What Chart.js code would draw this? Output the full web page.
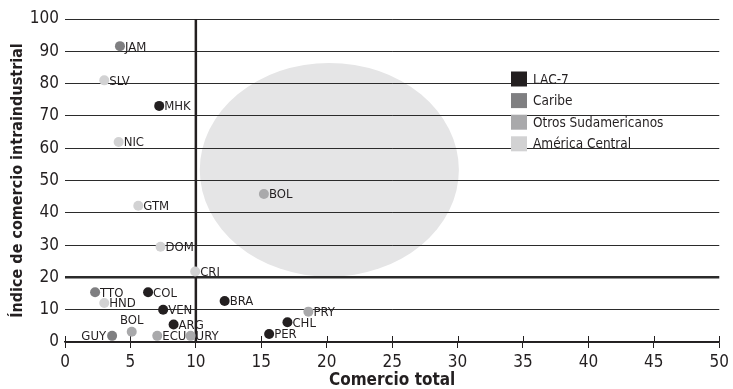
<!DOCTYPE html>
<html lang="es">
<head>
<meta charset="utf-8">
<title>Comercio intraindustrial</title>
<script src="https://cdn.jsdelivr.net/npm/chart.js@4.4.1/dist/chart.umd.min.js"></script>
<style>
  html, body { margin: 0; padding: 0; background: #fff; }
  #wrap { width: 733px; height: 389px; }
</style>
</head>
<body>
<div id="wrap"><canvas id="chart" width="733" height="389"></canvas></div>
<script>
const groups = ['LAC-7', 'Caribe', 'Otros Sudamericanos', 'América Central'];
const groupColors = ['#231f20', '#7f7f81', '#a9a9ab', '#d2d2d3'];

const countries = ['JAM', 'SLV', 'MHK', 'NIC', 'GTM', 'DOM', 'CRI', 'TTO', 'HND', 'COL',
                   'VEN', 'ARG', 'BOL', 'GUY', 'ECU', 'URY', 'BRA', 'BOL', 'PRY', 'CHL', 'PER'];
const comercioTotal = [4.2, 3.0, 7.2, 4.1, 5.6, 7.3, 9.95, 2.3, 3.0, 6.35,
                       7.5, 8.3, 5.1, 3.6, 7.05, 9.6, 12.2, 15.2, 18.6, 17.0, 15.6];
const indiceIntra = [91.6, 81.0, 73.1, 61.9, 42.2, 29.5, 21.8, 15.4, 12.1, 15.4,
                     10.0, 5.4, 3.2, 1.9, 1.9, 1.9, 12.7, 45.8, 9.4, 6.1, 2.5];
const grupo = [1, 3, 0, 3, 3, 3, 3, 1, 3, 0,
               0, 0, 2, 1, 2, 2, 0, 2, 2, 0, 0];

const xTicks = [0, 5, 10, 15, 20, 25, 30, 35, 40, 45, 50];
const yTicks = [0, 10, 20, 30, 40, 50, 60, 70, 80, 90, 100];

// shaded zone, in data units
const zona = { cx: 20.2, cy: 53.3, rx: 9.9, ry: 33.1 };

const FONT = '"Liberation Sans Narrow", "DejaVu Sans Condensed", "Roboto", sans-serif';

const datasets = groups.map((g, gi) => ({
    label: g,
    data: countries
        .map((c, i) => ({ x: comercioTotal[i], y: indiceIntra[i], code: c, idx: i }))
        .filter(p => grupo[p.idx] === gi),
    backgroundColor: groupColors[gi],
    borderWidth: 0,
    pointRadius: 5,
    pointHoverRadius: 5
}));

// ellipse behind everything
const zonePlugin = {
    id: 'zone',
    beforeDraw(chart) {
        const { ctx, scales: { x, y } } = chart;
        const cx = x.getPixelForValue(zona.cx);
        const cy = y.getPixelForValue(zona.cy);
        const rx = Math.abs(x.getPixelForValue(zona.cx + zona.rx) - cx);
        const ry = Math.abs(y.getPixelForValue(zona.cy + zona.ry) - cy);
        ctx.save();
        ctx.fillStyle = '#e5e5e6';
        ctx.beginPath();
        ctx.ellipse(cx, cy, rx, ry, 0, 0, Math.PI * 2);
        ctx.fill();
        ctx.restore();
    }
};

// vertical divider at 10 and crossing tick marks on the x axis
const dividerPlugin = {
    id: 'divider',
    beforeDatasetsDraw(chart) {
        const { ctx, chartArea, scales: { x } } = chart;
        ctx.save();
        ctx.strokeStyle = '#231f20';
        ctx.lineWidth = 1;
        xTicks.forEach(t => {
            const px = Math.round(x.getPixelForValue(t)) + 0.5;
            ctx.beginPath();
            ctx.moveTo(px, chartArea.bottom - 6);
            ctx.lineTo(px, chartArea.bottom);
            ctx.stroke();
        });
        const vx = x.getPixelForValue(10);
        ctx.lineWidth = 2.5;
        ctx.beginPath();
        ctx.moveTo(vx, chartArea.top);
        ctx.lineTo(vx, chartArea.bottom + 1);
        ctx.stroke();
        ctx.restore();
    }
};

// country codes next to each dot
const labelLeft = ['GUY'];
const labelAboveIdx = [12];
const labelPlugin = {
    id: 'countryLabels',
    afterDatasetsDraw(chart) {
        const { ctx } = chart;
        ctx.save();
        ctx.font = '500 13px ' + FONT;
        ctx.fillStyle = '#231f20';
        chart.data.datasets.forEach((ds, di) => {
            const meta = chart.getDatasetMeta(di);
            meta.data.forEach((el, j) => {
                const p = ds.data[j];
                ctx.textBaseline = 'middle';
                if (labelAboveIdx.includes(p.idx)) {
                    ctx.textAlign = 'center';
                    ctx.fillText(p.code, el.x, el.y - 11);
                } else if (labelLeft.includes(p.code)) {
                    ctx.textAlign = 'right';
                    ctx.fillText(p.code, el.x - 6, el.y + 1);
                } else {
                    ctx.textAlign = 'left';
                    ctx.fillText(p.code, el.x + 5, el.y + 1);
                }
            });
        });
        ctx.restore();
    }
};

// legend sitting inside the plot, no background
const legendPlugin = {
    id: 'insideLegend',
    afterDraw(chart) {
        const { ctx } = chart;
        ctx.save();
        ctx.font = '500 13.5px ' + FONT;
        ctx.textAlign = 'left';
        ctx.textBaseline = 'middle';
        groups.forEach((g, i) => {
            const cy = 79 + i * 21.6;
            ctx.fillStyle = groupColors[i];
            ctx.fillRect(511, cy - 7.5, 16, 15);
            ctx.fillStyle = '#231f20';
            ctx.fillText(g, 533, cy + 1);
        });
        ctx.restore();
    }
};

new Chart(document.getElementById('chart').getContext('2d'), {
    type: 'scatter',
    data: { datasets: datasets },
    plugins: [zonePlugin, dividerPlugin, labelPlugin, legendPlugin],
    options: {
        responsive: false,
        animation: false,
        events: [],
        layout: { padding: { top: 19, right: 11, left: 0, bottom: 0 } },
        plugins: {
            legend: { display: false },
            tooltip: { enabled: false }
        },
        scales: {
            x: {
                type: 'linear',
                min: 0,
                max: 50,
                afterBuildTicks: axis => { axis.ticks = xTicks.map(v => ({ value: v })); },
                border: { display: true, color: '#231f20', width: 1.5 },
                grid: {
                    drawOnChartArea: false,
                    drawTicks: true,
                    tickLength: 6,
                    color: '#231f20',
                    lineWidth: 1
                },
                ticks: {
                    color: '#231f20',
                    padding: 4,
                    maxRotation: 0,
                    font: { family: FONT, size: 17 }
                },
                title: {
                    display: true,
                    text: 'Comercio total',
                    color: '#231f20',
                    padding: { top: 0, bottom: 0 },
                    font: { family: FONT, size: 17, weight: 'bold', lineHeight: 1 }
                },
                afterFit: axis => { axis.height = 47; }
            },
            y: {
                type: 'linear',
                min: 0,
                max: 100,
                afterBuildTicks: axis => { axis.ticks = yTicks.map(v => ({ value: v })); },
                border: { display: false },
                grid: {
                    drawTicks: false,
                    color: '#2b2b2b',
                    lineWidth: c => (c.tick && c.tick.value === 20 ? 2.5 : 1)
                },
                ticks: {
                    color: '#231f20',
                    padding: 6,
                    font: { family: FONT, size: 17 }
                },
                title: {
                    display: true,
                    text: 'Índice de comercio intraindustrial',
                    color: '#231f20',
                    padding: { top: 10, bottom: 0 },
                    font: { family: FONT, size: 16, weight: 'bold', lineHeight: 1 }
                },
                afterFit: axis => { axis.width = 65; }
            }
        }
    }
});
</script>
</body>
</html>
